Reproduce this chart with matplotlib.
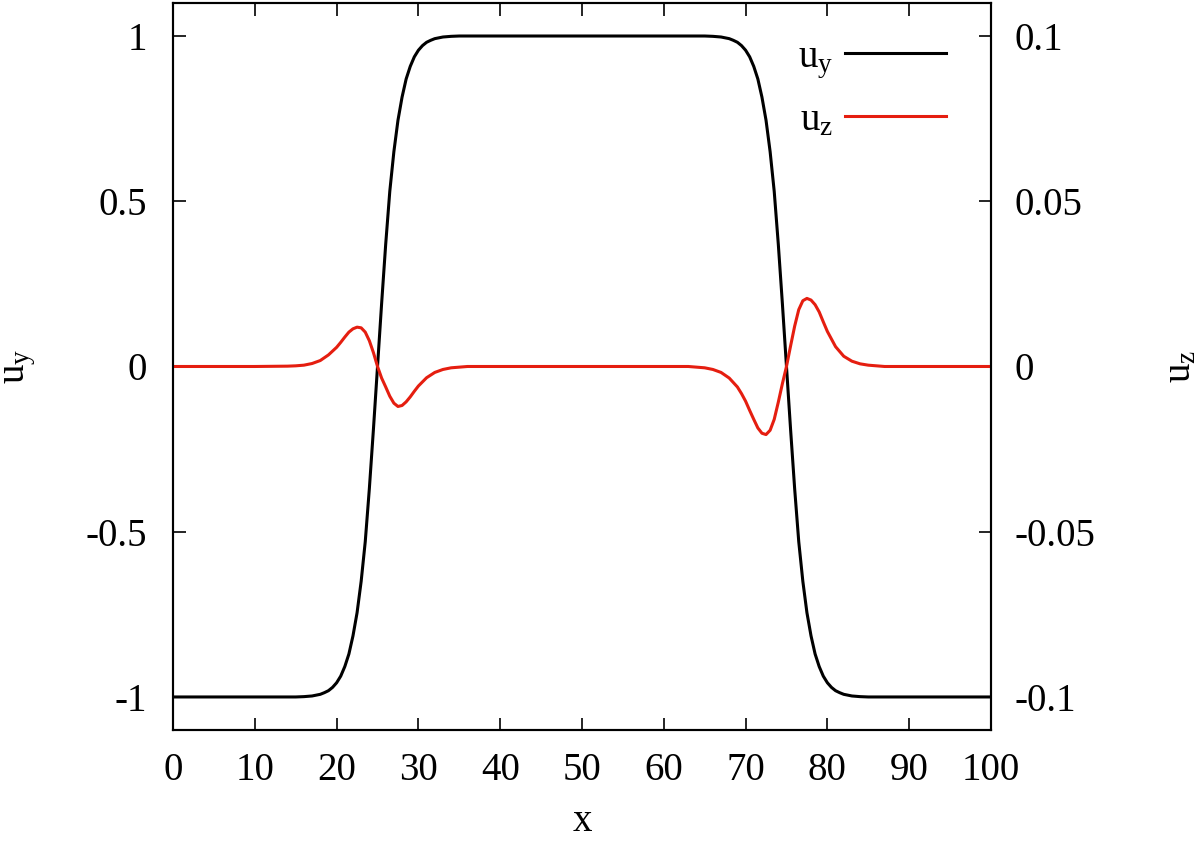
import matplotlib
matplotlib.use("Agg")
import matplotlib.pyplot as plt
from matplotlib.ticker import FormatStrFormatter

plt.rcParams['font.family'] = ['Liberation Serif', 'DejaVu Serif']
plt.rcParams['mathtext.fontset'] = 'custom'
plt.rcParams['mathtext.rm'] = 'Liberation Serif'
plt.rcParams['mathtext.it'] = 'Liberation Serif'
plt.rcParams['axes.unicode_minus'] = False

# u_y (left axis)
uy_x = [0, 10, 14, 15, 16, 17, 18, 18.5, 19, 19.5, 20, 20.5, 21, 21.5, 22, 22.5,
        23, 23.5, 24, 24.5, 25, 25.5, 26, 26.5, 27, 27.5, 28, 28.5, 29, 29.5,
        30, 30.5, 31, 31.5, 32, 33, 34, 35, 36, 50,
        64, 65, 66, 67, 68, 68.5, 69, 69.5, 70, 70.5, 71, 71.5, 72, 72.5,
        73, 73.5, 74, 74.5, 75, 75.5, 76, 76.5, 77, 77.5, 78, 78.5, 79, 79.5,
        80, 80.5, 81, 81.5, 82, 83, 84, 85, 86, 90, 100]
uy = [-1.0, -1.0, -1.0, -1.0, -0.999, -0.997, -0.992, -0.987, -0.981, -0.971, -0.957, -0.937, -0.908, -0.870, -0.815, -0.745,
      -0.650, -0.530, -0.370, -0.190, 0.0, 0.190, 0.370, 0.530, 0.650, 0.745, 0.815, 0.870, 0.908, 0.937,
      0.957, 0.971, 0.981, 0.987, 0.992, 0.997, 0.999, 1.0, 1.0, 1.0,
      1.0, 1.0, 0.999, 0.997, 0.992, 0.987, 0.981, 0.971, 0.957, 0.937, 0.908, 0.870, 0.815, 0.745,
      0.650, 0.530, 0.370, 0.190, 0.0, -0.190, -0.370, -0.530, -0.650, -0.745, -0.815, -0.870, -0.908, -0.937,
      -0.957, -0.971, -0.981, -0.987, -0.992, -0.997, -0.999, -1.0, -1.0, -1.0, -1.0]

# u_z (right axis)
uz_x = [0, 10, 14, 15, 16, 17, 18, 19, 20, 20.5, 21, 21.5, 22, 22.5, 23, 23.5, 24, 24.5,
        25, 25.5, 26, 26.5, 27, 27.5, 28, 28.5, 29, 29.5, 30, 31, 32, 33, 34, 35, 36,
        50, 63, 64, 65, 66, 67, 68, 69, 69.5, 70, 70.5, 71, 71.5, 72, 72.5, 73, 73.5,
        74, 74.5, 75, 75.5, 76, 76.5, 77, 77.5, 78, 78.5, 79, 79.5, 80, 81, 82, 83,
        84, 85, 86, 87, 100]
uz = [0.0, 0.0, 0.0001, 0.0002, 0.0004, 0.0009, 0.0018, 0.0035, 0.0058, 0.0073, 0.0089, 0.0104, 0.0114, 0.0119, 0.0117, 0.0104, 0.0078, 0.0042,
      0.0, -0.0035, -0.0062, -0.0090, -0.0111, -0.0121, -0.0118, -0.0107, -0.0092, -0.0075, -0.0059, -0.0034, -0.0018, -0.0009, -0.0004, -0.0002, 0.0,
      0.0, 0.0, -0.0002, -0.0004, -0.0009, -0.0018, -0.0035, -0.0062, -0.0082, -0.0105, -0.0133, -0.0160, -0.0186, -0.0202, -0.0206, -0.0193, -0.0160,
      -0.0108, -0.0052, 0.0, 0.0062, 0.0122, 0.0172, 0.0199, 0.0206, 0.0201, 0.0187, 0.0165, 0.0135, 0.0106, 0.0060, 0.0031, 0.0016,
      0.0008, 0.0004, 0.0002, 0.0, 0.0]

x_ticks = [0, 10, 20, 30, 40, 50, 60, 70, 80, 90, 100]
y_ticks = [-1, -0.5, 0, 0.5, 1]
z_ticks = [-0.1, -0.05, 0, 0.05, 0.1]

fs = 28
fig = plt.figure(figsize=(12, 8.46), dpi=100)
ax = fig.add_axes([0.1442, 0.1371, 0.6816, 0.8594])
ax2 = ax.twinx()

l1, = ax.plot(uy_x, uy, color='black', lw=2.2, label=r'$\mathrm{u_y}$', zorder=3)
l2, = ax2.plot(uz_x, uz, color='#e51e10', lw=2.2, label=r'$\mathrm{u_z}$')

ax.set_xlim(0, 100)
ax.set_ylim(-1.1, 1.1)
ax2.set_ylim(-0.11, 0.11)
ax.set_xticks(x_ticks)
ax.set_yticks(y_ticks)
ax2.set_yticks(z_ticks)
ax.yaxis.set_major_formatter(FormatStrFormatter('%g'))
ax2.yaxis.set_major_formatter(FormatStrFormatter('%g'))

ax.tick_params(axis='x', direction='in', length=9, width=1.2, top=True, labelsize=fs, pad=16)
ax.tick_params(axis='y', direction='in', length=9, width=1.2, right=False, labelsize=fs, pad=19)
ax2.tick_params(axis='y', direction='in', length=9, width=1.2, labelsize=fs, pad=17)
for a in (ax, ax2):
    for s in a.spines.values():
        s.set_linewidth(1.5)

ax.set_xlabel('x', fontsize=fs, labelpad=10)
ax.set_ylabel(r'$\mathrm{u_y}$', fontsize=fs, labelpad=34)
ax2.set_ylabel(r'$\mathrm{u_z}$', fontsize=fs, rotation=90, labelpad=48)

ax.legend(handles=[l1, l2], loc='upper right', bbox_to_anchor=(1.0, 1.012),
          frameon=False, fontsize=fs, markerfirst=False, handlelength=2.6,
          handletextpad=0.3, labelspacing=0.55, borderaxespad=0.75)

fig.savefig('out.png', dpi=100)
